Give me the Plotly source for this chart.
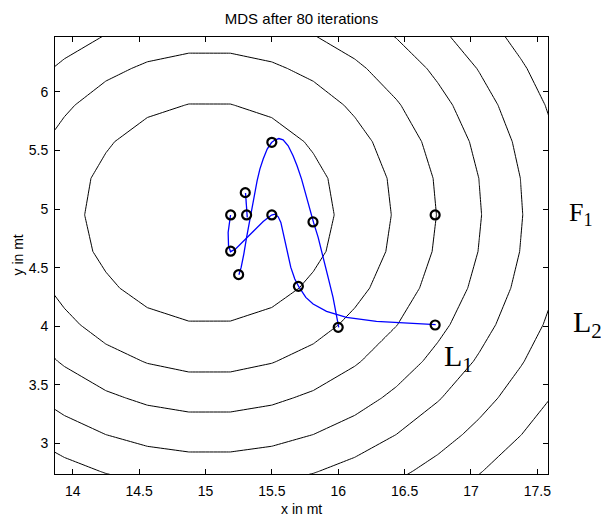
import numpy as np
import plotly.graph_objects as go

# ---- contour field (concentric iso-lines) ----
center_x, center_y = 15.03, 4.97
level_radii = [0.94, 1.37, 1.71, 2.05, 2.36, 2.69, 3.02]
grid_step = 0.3125
grid_x = np.arange(13.3125, 18.1, grid_step)
grid_y = np.arange(2.45, 6.9, grid_step)

# ---- markers (node positions) ----
marker_x = [15.50, 15.30, 15.19, 15.31, 15.50, 15.81, 16.73, 15.19, 15.25, 15.70, 16.00, 16.73]
marker_y = [5.57, 5.14, 4.95, 4.95, 4.95, 4.89, 4.95, 4.64, 4.44, 4.34, 3.99, 4.01]

# ---- trajectories (blue) ----
path_a_x = [16.734, 16.464, 16.288, 16.062, 15.912, 15.811, 15.756, 15.703, 15.673, 15.643, 15.615,
            15.590, 15.568, 15.548, 15.523, 15.498, 15.435, 15.365, 15.289, 15.229, 15.189, 15.174,
            15.171, 15.179, 15.189]
path_a_y = [4.013, 4.027, 4.041, 4.075, 4.126, 4.189, 4.246, 4.337, 4.403, 4.502, 4.644,
            4.787, 4.886, 4.934, 4.957, 4.949, 4.894, 4.815, 4.724, 4.661, 4.636, 4.687,
            4.800, 4.886, 4.949]
path_b_x = [16.004, 15.987, 15.961, 15.924, 15.886, 15.849, 15.814, 15.786, 15.754, 15.724, 15.690,
            15.660, 15.623, 15.585, 15.553, 15.523, 15.498, 15.465, 15.435, 15.410, 15.389, 15.367,
            15.347, 15.329, 15.310, 15.289, 15.269, 15.252]
path_b_y = [3.990, 4.104, 4.246, 4.416, 4.587, 4.758, 4.886, 5.000, 5.142, 5.256, 5.369,
            5.455, 5.540, 5.591, 5.602, 5.589, 5.568, 5.512, 5.427, 5.341, 5.241, 5.113,
            5.000, 4.900, 4.758, 4.616, 4.502, 4.439]
path_c_x = [15.302, 15.310, 15.315]
path_c_y = [5.137, 5.043, 4.928]

x_ticks = [14, 14.5, 15, 15.5, 16, 16.5, 17, 17.5]
x_tick_labels = ["14", "14.5", "15", "15.5", "16", "16.5", "17", "17.5"]
y_ticks = [3, 3.5, 4, 4.5, 5, 5.5, 6]
y_tick_labels = ["3", "3.5", "4", "4.5", "5", "5.5", "6"]

X, Y = np.meshgrid(grid_x, grid_y)
R = np.sqrt((X - center_x) ** 2 + (Y - center_y) ** 2)

fig = go.Figure()
for lev in level_radii:
    fig.add_trace(go.Contour(
        x=grid_x, y=grid_y, z=R,
        contours=dict(start=lev, end=lev, size=1, coloring="lines"),
        line=dict(width=1, smoothing=0),
        colorscale=[[0, "black"], [1, "black"]],
        showscale=False, hoverinfo="skip",
    ))
for px, py in [(path_a_x, path_a_y), (path_b_x, path_b_y), (path_c_x, path_c_y)]:
    fig.add_trace(go.Scatter(x=px, y=py, mode="lines",
                             line=dict(color="#0000ff", width=1.3), showlegend=False))
fig.add_trace(go.Scatter(x=marker_x, y=marker_y, mode="markers",
                         marker=dict(symbol="circle-open", size=9, color="black",
                                     line=dict(width=2.2, color="black")),
                         showlegend=False))

axis_font = dict(family="Liberation Sans, Arial, sans-serif", size=14, color="black")
common = dict(showgrid=False, zeroline=False, showline=True, linecolor="black", linewidth=1,
              ticks="inside", ticklen=5, tickcolor="black", mirror="ticks", tickfont=axis_font)
fig.update_xaxes(range=[13.867, 17.58], tickvals=x_ticks, ticktext=x_tick_labels,
                 ticklabelstandoff=4, **common)
fig.update_yaxes(range=[2.738, 6.469], tickvals=y_ticks, ticktext=y_tick_labels,
                 ticklabelstandoff=3, **common)

serif = "Liberation Serif, Times New Roman, serif"
fig.update_layout(
    width=601, height=517,
    margin=dict(l=55, r=53, t=37, b=43),
    paper_bgcolor="white", plot_bgcolor="white",
    showlegend=False,
    title=dict(text="MDS after 80 iterations", x=0.5, xanchor="center", xref="paper",
               y=1 - 18.5 / 517, yref="container", yanchor="middle",
               font=dict(family="Liberation Sans, Arial, sans-serif", size=15, color="black")),
    annotations=[
        dict(text="x in mt", xref="paper", yref="paper", x=0.5, y=-(509 - 474) / 437,
             xanchor="center", yanchor="middle", showarrow=False, font=axis_font),
        dict(text="y in mt", xref="paper", yref="paper", x=-(55 - 17) / 493, y=0.5,
             xanchor="center", yanchor="middle", textangle=-90, showarrow=False, font=axis_font),
        dict(text="F<sub>1</sub>", xref="paper", yref="y", x=(567 - 55) / 493, y=4.96,
             xanchor="left", yanchor="middle", showarrow=False,
             font=dict(family=serif, size=26, color="black")),
        dict(text="L<sub>2</sub>", xref="paper", yref="y", x=(571 - 55) / 493, y=4.02,
             xanchor="left", yanchor="middle", showarrow=False,
             font=dict(family=serif, size=30, color="black")),
        dict(text="L<sub>1</sub>", xref="x", yref="y", x=16.78, y=3.73,
             xanchor="left", yanchor="middle", showarrow=False,
             font=dict(family=serif, size=30, color="black")),
    ],
)
fig.write_html("out.html", config={"displayModeBar": False},
               post_script="document.body.style.margin='0';")
